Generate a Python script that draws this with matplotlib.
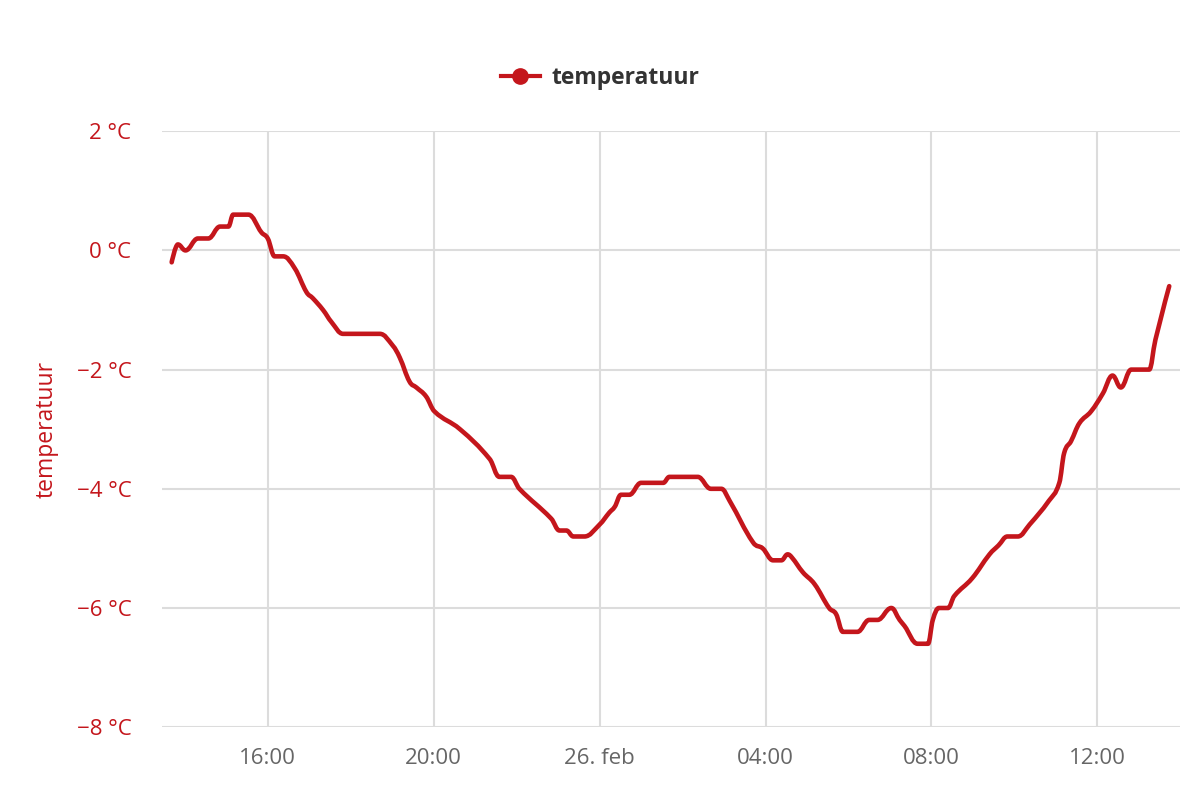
"""Temperatuurverloop 25-26 feb"""
import matplotlib
matplotlib.use('Agg')
import matplotlib.pyplot as plt
import matplotlib.dates as mdates
from matplotlib.lines import Line2D
from matplotlib.path import Path
from matplotlib.patches import PathPatch
import pandas as pd

# Meetpunten (tijd, temperatuur in °C)
tijden = [
    '2024-02-25 13:41', '2024-02-25 13:50', '2024-02-25 14:01', '2024-02-25 14:19',
    '2024-02-25 14:34', '2024-02-25 14:51', '2024-02-25 15:03', '2024-02-25 15:10',
    '2024-02-25 15:32', '2024-02-25 15:51', '2024-02-25 16:00', '2024-02-25 16:10',
    '2024-02-25 16:22', '2024-02-25 16:39', '2024-02-25 16:56', '2024-02-25 17:05',
    '2024-02-25 17:20', '2024-02-25 17:32', '2024-02-25 17:49', '2024-02-25 18:42',
    '2024-02-25 19:01', '2024-02-25 19:11', '2024-02-25 19:25', '2024-02-25 19:35',
    '2024-02-25 19:49', '2024-02-25 20:01', '2024-02-25 20:38', '2024-02-25 21:21',
    '2024-02-25 21:35', '2024-02-25 21:52', '2024-02-25 22:04', '2024-02-25 22:50',
    '2024-02-25 23:02', '2024-02-25 23:12', '2024-02-25 23:22', '2024-02-25 23:38',
    '2024-02-26 00:00', '2024-02-26 00:14', '2024-02-26 00:22', '2024-02-26 00:31',
    '2024-02-26 00:43', '2024-02-26 01:00', '2024-02-26 01:32', '2024-02-26 01:41',
    '2024-02-26 02:22', '2024-02-26 02:41', '2024-02-26 02:56', '2024-02-26 03:08',
    '2024-02-26 03:42', '2024-02-26 03:56', '2024-02-26 04:11', '2024-02-26 04:23',
    '2024-02-26 04:32', '2024-02-26 04:38', '2024-02-26 04:54', '2024-02-26 05:11',
    '2024-02-26 05:32', '2024-02-26 05:42', '2024-02-26 05:52', '2024-02-26 06:13',
    '2024-02-26 06:30', '2024-02-26 06:42', '2024-02-26 07:02', '2024-02-26 07:14',
    '2024-02-26 07:21', '2024-02-26 07:40', '2024-02-26 07:55', '2024-02-26 08:02',
    '2024-02-26 08:11', '2024-02-26 08:24', '2024-02-26 08:33', '2024-02-26 08:59',
    '2024-02-26 09:24', '2024-02-26 09:37', '2024-02-26 09:50', '2024-02-26 10:05',
    '2024-02-26 10:22', '2024-02-26 10:50', '2024-02-26 11:05', '2024-02-26 11:12',
    '2024-02-26 11:22', '2024-02-26 11:34', '2024-02-26 11:51', '2024-02-26 12:08',
    '2024-02-26 12:22', '2024-02-26 12:34', '2024-02-26 12:49', '2024-02-26 13:15',
    '2024-02-26 13:24', '2024-02-26 13:44',
]
temperatuur = [
    -0.2, 0.1, 0.0, 0.2,
    0.2, 0.4, 0.4, 0.6,
    0.6, 0.3, 0.2, -0.1,
    -0.1, -0.3, -0.7, -0.8,
    -1.0, -1.2, -1.4, -1.4,
    -1.6, -1.8, -2.2, -2.3,
    -2.45, -2.7, -3.0, -3.5,
    -3.8, -3.8, -4.0, -4.5,
    -4.7, -4.7, -4.8, -4.8,
    -4.6, -4.4, -4.3, -4.1,
    -4.1, -3.9, -3.9, -3.8,
    -3.8, -4.0, -4.0, -4.2,
    -4.9, -5.0, -5.2, -5.2,
    -5.1, -5.15, -5.4, -5.6,
    -6.0, -6.1, -6.4, -6.4,
    -6.2, -6.2, -6.0, -6.2,
    -6.3, -6.6, -6.6, -6.2,
    -6.0, -6.0, -5.8, -5.5,
    -5.1, -4.95, -4.8, -4.8,
    -4.6, -4.2, -3.9, -3.4,
    -3.2, -2.9, -2.7, -2.4,
    -2.1, -2.3, -2.0, -2.0,
    -1.5, -0.6,
]

# As-instellingen
y_ticks = [2, 0, -2, -4, -6, -8]
x_ticks = ['2024-02-25 16:00', '2024-02-25 20:00', '2024-02-26 00:00',
           '2024-02-26 04:00', '2024-02-26 08:00', '2024-02-26 12:00']
x_labels = ['16:00', '20:00', '26. feb', '04:00', '08:00', '12:00']
x_bereik = ['2024-02-25 13:27', '2024-02-26 13:59']

rood = '#c4161c'
plt.rcParams['font.family'] = ['Open Sans', 'DejaVu Sans']


def spline_pad(xs, ys, smoothing=1.5):
    """Vloeiende lijn door de punten (Bezier, zoals een spline-grafiek)"""
    n = len(xs)
    links = [(xs[0], ys[0])] * n
    rechts = [(xs[0], ys[0])] * n
    for i in range(n):
        x, y = xs[i], ys[i]
        if i == 0 or i == n - 1:
            links[i] = rechts[i] = (x, y)
            continue
        lx, ly = xs[i - 1], ys[i - 1]
        nx, ny = xs[i + 1], ys[i + 1]
        d = smoothing + 1
        lcx, lcy = (smoothing * x + lx) / d, (smoothing * y + ly) / d
        rcx, rcy = (smoothing * x + nx) / d, (smoothing * y + ny) / d
        if rcx != lcx:
            corr = (rcy - lcy) * (rcx - x) / (rcx - lcx) + y - rcy
            lcy += corr
            rcy += corr
        if lcy > ly and lcy > y:
            lcy = max(ly, y)
            rcy = 2 * y - lcy
        elif lcy < ly and lcy < y:
            lcy = min(ly, y)
            rcy = 2 * y - lcy
        if rcy > ny and rcy > y:
            rcy = max(ny, y)
            lcy = 2 * y - rcy
        elif rcy < ny and rcy < y:
            rcy = min(ny, y)
            lcy = 2 * y - rcy
        links[i] = (lcx, lcy)
        rechts[i] = (rcx, rcy)
    verts = [(xs[0], ys[0])]
    codes = [Path.MOVETO]
    for i in range(1, n):
        verts += [rechts[i - 1], links[i], (xs[i], ys[i])]
        codes += [Path.CURVE4] * 3
    return Path(verts, codes)


tijd = mdates.date2num(pd.to_datetime(tijden).to_pydatetime())

fig = plt.figure(figsize=(12, 8), dpi=100)
ax = fig.add_axes([0.135, 0.091, 0.848, 0.745])

ax.add_patch(PathPatch(spline_pad(list(tijd), temperatuur), fill=False,
                       edgecolor=rood, linewidth=3.3, capstyle='round',
                       joinstyle='round', zorder=3))

ax.xaxis_date()
ax.set_ylim(-8, 2)
ax.set_xlim(mdates.date2num(pd.to_datetime(x_bereik[0])),
            mdates.date2num(pd.to_datetime(x_bereik[1])))
ax.set_yticks(y_ticks)
ax.set_yticklabels([f'{v} °C'.replace('-', '\u2212') for v in y_ticks])
ax.set_xticks(mdates.date2num(pd.to_datetime(x_ticks).to_pydatetime()))
ax.set_xticklabels(x_labels)

ax.grid(True, color='#dcdcdc', linewidth=1.5)
ax.set_axisbelow(True)
for s in ax.spines.values():
    s.set_visible(False)
ax.tick_params(axis='both', length=0, labelsize=16)
ax.tick_params(axis='y', colors=rood, pad=22)
ax.tick_params(axis='x', colors='#666666', pad=15)

ax.set_ylabel('temperatuur', color=rood, fontsize=16.5)
ax.yaxis.set_label_coords(-0.102, 0.5)

handle = Line2D([], [], color=rood, linewidth=3, marker='o', markersize=11)
leg = fig.legend(handles=[handle], labels=['temperatuur'], loc='center',
                 bbox_to_anchor=(0.5, 0.903), frameon=False, handlelength=1.7,
                 handletextpad=0.5, prop={'weight': 'bold', 'size': 16.5})
for t in leg.get_texts():
    t.set_color('#333333')

plt.savefig('out.png', dpi=100)
plt.close()
